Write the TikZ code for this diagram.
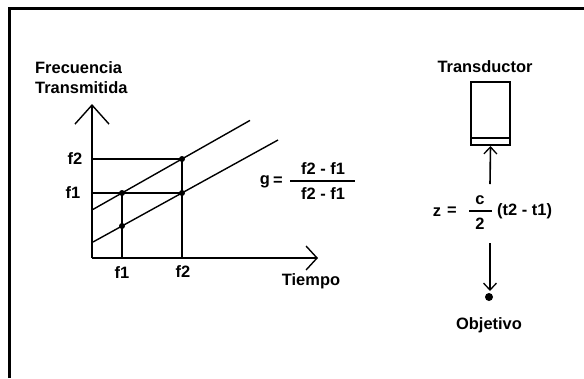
\documentclass[tikz,border=0pt]{standalone}
\usepackage{fontspec}
\setmainfont{Liberation Sans}
\usetikzlibrary{arrows.meta}
\tikzset{
  lbl/.style={font=\bfseries\fontsize{16.5}{20}\selectfont, inner sep=0pt},
  thinline/.style={line width=1.4bp},
  axis/.style={line width=2bp},
  dotpt/.style={circle, fill=black, inner sep=0pt, minimum size=6bp},
}
\begin{document}
\begin{tikzpicture}[x=1bp,y=-1bp]
\useasboundingbox (0,0) rectangle (584,378);
% frame
\draw[line width=3bp] (9,378) -- (9,8) -- (584,8);
% axis labels
\node[lbl, anchor=west, align=left] (ylab) at (35,78) {Frecuencia\\Transmitida};
\node[lbl] (xlab) at (311,281) {Tiempo};
% axes
\coordinate (O) at (92,258);
\coordinate (ytop) at (92,104);
\coordinate (xend) at (318,258);
\draw[axis, -{Straight Barb[length=19bp,width=34bp,line width=1.4bp]}] (O) -- (ytop);
\draw[axis, -{Straight Barb[length=11bp,width=24bp,line width=1.4bp]}] (O) -- (xend);
% lines
\coordinate (u1) at (93,209.4);
\coordinate (u2) at (250,120.4);
\coordinate (l1) at (93,242);
\coordinate (l2) at (278,140);
\draw[thinline] (u1) -- (u2);
\draw[thinline] (l1) -- (l2);
% points
\node[dotpt] (p1) at (122,193) {};
\node[dotpt] (p2) at (182,159) {};
\node[dotpt] (p3) at (122,226) {};
\node[dotpt] (p4) at (182,193) {};
\coordinate (yf2) at (92,159);
\coordinate (yf1) at (92,193);
\coordinate (xf1) at (122,258);
\coordinate (xf2) at (182,258);
\draw[thinline] (yf2) -- (p2.center) -- (xf2);
\draw[thinline] (yf1) -- (p4.center);
\draw[thinline] (p1.center) -- (xf1);
% tick labels
\node[lbl] (tf2) at (75,159) {f2};
\node[lbl] (tf1) at (73,193) {f1};
\node[lbl] (bf1) at (122,273) {f1};
\node[lbl] (bf2) at (183,272) {f2};
% g formula
\node[lbl] (g) at (265,182) {g};
\node[lbl] (geq) at (278,181) {=};
\node[lbl] (gnum) at (323,169) {f2 - f1};
\node[lbl] (gden) at (323,194) {f2 - f1};
\coordinate (gb1) at (290,181);
\coordinate (gb2) at (355,181);
\draw[line width=1.3bp] (gb1) -- (gb2);
% transducer
\node[lbl] (tlab) at (485,67) {Transductor};
\node[draw, line width=2bp, minimum width=39bp, minimum height=63bp, inner sep=0pt] (box) at (490.5,113.5) {};
\coordinate (bl) at (471,138);
\coordinate (br) at (510,138);
\draw[line width=1.3bp] (bl) -- (br);
% z formula
\node[lbl] (z) at (437,212) {z};
\node[lbl] (zeq) at (452,211) {=};
\node[lbl] (zc) at (480,200) {c};
\node[lbl] (z2) at (480,224) {2};
\coordinate (zb1) at (469,211);
\coordinate (zb2) at (492,211);
\draw[line width=1.3bp] (zb1) -- (zb2);
\node[lbl, anchor=west] (zt) at (497,211) {(t2 - t1)};
% arrows
\coordinate (a1) at (490,184);
\draw[line width=1.6bp, -{Straight Barb[length=7bp,width=13bp,line width=1.3bp]}] (a1) -- (box.south);
\coordinate (a2) at (490,243);
\coordinate (a2e) at (490,291);
\node[circle, fill=black, inner sep=0pt, minimum width=7bp, minimum height=8bp] (obj) at (489,297) {};
\draw[line width=1.6bp, -{Straight Barb[length=7bp,width=13bp,line width=1.3bp]}] (a2) -- (a2e);
\node[lbl] (olab) at (489,325) {Objetivo};
\end{tikzpicture}
\end{document}
